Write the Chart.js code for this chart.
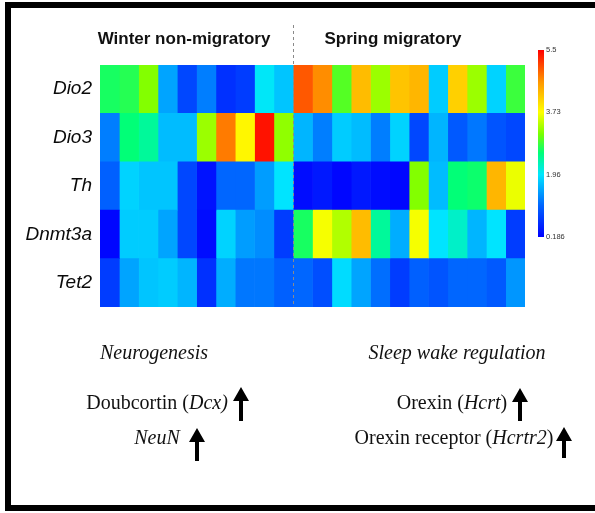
<!DOCTYPE html>
<html>
<head>
<meta charset="utf-8">
<script src="https://cdn.jsdelivr.net/npm/chart.js@4.4.0/dist/chart.umd.min.js"></script>
<style>
  body { margin: 0; background: #fff; }
  #wrap { position: relative; width: 595px; height: 513px; overflow: hidden; background: #fff; }
  canvas { position: absolute; }
  .frame { position: absolute; left: 5px; top: 2px; width: 600px; height: 509px; box-sizing: border-box; border: 6px solid #000; }
  .grp { position: absolute; top: 29px; font: bold 17px "Liberation Sans", Arial, sans-serif; color: #111; transform: translateX(-50%); white-space: nowrap; }
  .note { position: absolute; font-family: "Liberation Serif", "Times New Roman", serif; font-size: 20px; color: #111; transform: translateX(-50%); white-space: nowrap; }
  .note i { font-style: italic; }
  .arrow { position: absolute; }
</style>
</head>
<body>
<div id="wrap">
  <canvas id="heat" width="595" height="513" style="left:0;top:0"></canvas>
  <canvas id="scale" width="40" height="210" style="left:530px;top:40px"></canvas>
  <div class="frame"></div>
  <div class="grp" style="left:184px">Winter non-migratory</div>
  <div class="grp" style="left:393px">Spring migratory</div>

  <div class="note" style="left:154px;top:341px"><i>Neurogenesis</i></div>
  <div class="note" style="left:157px;top:391px">Doubcortin (<i>Dcx)</i></div>
  <div class="note" style="left:157px;top:426px"><i>NeuN</i></div>
  <div class="note" style="left:457px;top:341px"><i>Sleep wake regulation</i></div>
  <div class="note" style="left:452px;top:391px">Orexin (<i>Hcrt</i>)</div>
  <div class="note" style="left:454px;top:426px">Orexin receptor (<i>Hcrtr2</i>)</div>

  <svg class="arrow" style="left:233px;top:387px" width="16" height="34"><polygon points="8,0 16,14 10,14 10,34 6,34 6,14 0,14" fill="#000"/></svg>
  <svg class="arrow" style="left:189px;top:428px" width="16" height="33"><polygon points="8,0 16,14 10,14 10,33 6,33 6,14 0,14" fill="#000"/></svg>
  <svg class="arrow" style="left:512px;top:388px" width="16" height="33"><polygon points="8,0 16,14 10,14 10,33 6,33 6,14 0,14" fill="#000"/></svg>
  <svg class="arrow" style="left:556px;top:427px" width="16" height="31"><polygon points="8,0 16,14 10,14 10,31 6,31 6,14 0,14" fill="#000"/></svg>
</div>

<script>
// genes (rows) and per-gene expression, 10 winter columns then 12 spring columns
const genes = ['Dio2', 'Dio3', 'Th', 'Dnmt3a', 'Tet2'];
const winterCount = 10;
const dio2   = [2.68, 2.74, 3.16, 1.51, 0.82, 1.25, 0.61, 0.72, 1.99, 1.73,  4.97, 4.65, 2.95, 4.28, 3.27, 4.22, 4.33, 1.78, 4.12, 3.27, 1.83, 2.84];
const dio3   = [1.25, 2.58, 2.42, 1.67, 1.67, 3.27, 4.76, 3.80, 5.39, 3.22,  1.62, 1.25, 1.78, 1.67, 1.25, 1.83, 0.82, 1.62, 0.98, 1.20, 0.93, 0.82];
const th     = [1.04, 1.83, 1.73, 1.73, 0.82, 0.35, 1.09, 1.09, 1.46, 1.94,  0.29, 0.40, 0.24, 0.40, 0.29, 0.24, 3.16, 1.67, 2.58, 2.63, 4.33, 3.64];
const dnmt3a = [0.24, 1.78, 1.78, 1.51, 0.82, 0.29, 1.83, 1.46, 1.35, 0.72,  2.68, 3.69, 3.37, 4.28, 2.42, 1.57, 3.69, 1.94, 2.21, 1.62, 1.94, 0.72];
const tet2   = [0.72, 1.51, 1.73, 1.78, 1.62, 0.61, 1.57, 1.20, 1.20, 1.04,  1.09, 0.88, 1.89, 1.51, 1.14, 0.72, 1.04, 0.93, 1.09, 1.09, 0.98, 1.41];
const colorTicks = [0.186, 1.96, 3.73, 5.5];

const rows = [dio2, dio3, th, dnmt3a, tet2];
const vMin = colorTicks[0], vMax = colorTicks[colorTicks.length - 1];

const stops = [
  [0, [0, 0, 255]], [0.167, [0, 100, 255]], [0.333, [0, 230, 255]],
  [0.45, [0, 255, 120]], [0.55, [120, 255, 0]], [0.667, [255, 255, 0]],
  [0.83, [255, 150, 0]], [1, [255, 0, 0]]
];
function colorFor(v) {
  const t = Math.min(1, Math.max(0, (v - vMin) / (vMax - vMin)));
  for (let i = 1; i < stops.length; i++) {
    if (t <= stops[i][0]) {
      const [t0, c0] = stops[i - 1], [t1, c1] = stops[i];
      const f = (t - t0) / (t1 - t0);
      const c = c0.map((a, k) => Math.round(a + (c1[k] - a) * f));
      return `rgb(${c[0]},${c[1]},${c[2]})`;
    }
  }
  return 'rgb(255,0,0)';
}

// one stacked dataset per sample column
const datasets = dio2.map((_, j) => ({
  data: genes.map(() => 1),
  backgroundColor: rows.map((r) => colorFor(r[j])),
  borderWidth: 0,
  barPercentage: 1,
  categoryPercentage: 1,
}));

// dashed divider between groups
const divider = {
  id: 'divider',
  afterDatasetsDraw(chart) {
    const { ctx, scales, chartArea } = chart;
    const x = Math.round(scales.x.getPixelForValue(winterCount)) + 0.5;
    ctx.save();
    ctx.strokeStyle = '#8a8a8a';
    ctx.lineWidth = 1;
    ctx.setLineDash([3, 3]);
    ctx.beginPath();
    ctx.moveTo(x, 25);
    ctx.lineTo(x, chartArea.bottom);
    ctx.stroke();
    ctx.restore();
  },
};

new Chart(document.getElementById('heat'), {
  type: 'bar',
  data: { labels: genes, datasets },
  options: {
    indexAxis: 'y',
    responsive: false,
    animation: false,
    layout: { padding: { left: 0, right: 70, top: 65, bottom: 206 } },
    plugins: { legend: { display: false }, tooltip: { enabled: false } },
    scales: {
      x: { stacked: true, min: 0, max: dio2.length, display: false },
      y: {
        stacked: true,
        grid: { display: false, drawTicks: false },
        border: { display: false },
        ticks: { color: '#0a0a0a', padding: 8, font: { family: 'Liberation Sans, Arial, sans-serif', size: 19, style: 'italic' } },
        afterFit: (scale) => { scale.width = 100; },
      },
    },
  },
  plugins: [divider],
});

// colour key
new Chart(document.getElementById('scale'), {
  type: 'bar',
  data: {
    labels: ['key'],
    datasets: [{
      data: [[vMin, vMax]],
      barPercentage: 1,
      categoryPercentage: 1,
      borderWidth: 0,
      backgroundColor: (c) => {
        const area = c.chart.chartArea;
        if (!area) return 'blue';
        const g = c.chart.ctx.createLinearGradient(0, area.bottom, 0, area.top);
        stops.forEach(([t, col]) => g.addColorStop(t, `rgb(${col[0]},${col[1]},${col[2]})`));
        return g;
      },
    }],
  },
  options: {
    responsive: false,
    animation: false,
    layout: { padding: { left: 8, top: 10, bottom: 13, right: 0 } },
    plugins: { legend: { display: false }, tooltip: { enabled: false } },
    scales: {
      x: { display: false },
      y: {
        position: 'right',
        min: vMin,
        max: vMax,
        grid: { display: false, drawTicks: false },
        border: { display: false },
        afterBuildTicks: (scale) => { scale.ticks = colorTicks.map((v) => ({ value: v })); },
        ticks: { color: '#333', padding: 2, font: { family: 'Liberation Sans Narrow, Arial, sans-serif', size: 7.5 }, callback: (v) => String(v) },
        afterFit: (scale) => { scale.width = 26; },
      },
    },
  },
});
</script>
</body>
</html>
